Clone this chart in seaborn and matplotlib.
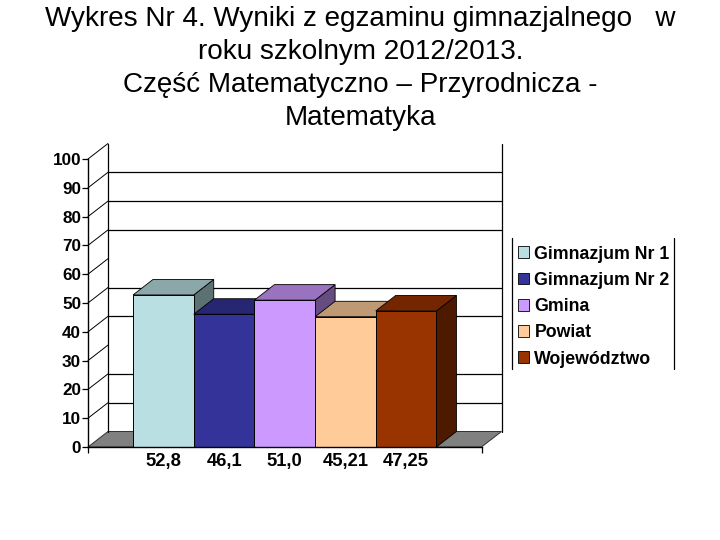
import matplotlib
matplotlib.use("Agg")
import matplotlib.pyplot as plt
from matplotlib.patches import Polygon
from matplotlib.lines import Line2D
from matplotlib.colors import to_rgb
import pandas as pd
import seaborn as sns

groups = ["Gimnazjum Nr 1", "Gimnazjum Nr 2", "Gmina", "Powiat", "Województwo"]
values = [52.8, 46.1, 51.0, 45.21, 47.25]
value_labels = ["52,8", "46,1", "51,0", "45,21", "47,25"]
colors = ["#B9DFE3", "#333399", "#CC99FF", "#FFCC99", "#993300"]
y_ticks = list(range(0, 101, 10))
wall_grid = [10, 20, 40, 50, 70, 80, 90]
title = ("Wykres Nr 4. Wyniki z egzaminu gimnazjalnego   w\n"
         "roku szkolnym 2012/2013.\n"
         "Część Matematyczno – Przyrodnicza -\n"
         "Matematyka")

sns.set_theme(style="white")
plt.rcParams["font.family"] = ["Liberation Sans", "DejaVu Sans"]

W, H = 720, 540
fig = plt.figure(figsize=(7.2, 5.4), dpi=100)
ax = fig.add_axes([88 / W, (H - 447) / H, 393.5 / W, 288 / H])

df = pd.DataFrame({"g": [""] * len(groups), "name": groups, "value": values})
sns.barplot(data=df, x="g", y="value", hue="name", hue_order=groups,
            palette=colors, width=0.771, gap=0, saturation=1,
            edgecolor="black", linewidth=0.7, ax=ax, legend=True)
ax.set_xlim(-0.5, 0.5)
ax.set_ylim(0, 100)
ax.set_xlabel("")
ax.set_ylabel("")
ax.patch.set_visible(False)
for s in ("top", "right"):
    ax.spines[s].set_visible(False)
for s in ("left", "bottom"):
    ax.spines[s].set_linewidth(1.0)
    ax.spines[s].set_color("black")
    ax.spines[s].set_zorder(30)

# depth of the pseudo-3D box, in data units
DX = 20 / 393.5
DY = 15.5 / 2.88
x0, x1 = ax.get_xlim()
LINE = dict(color="black", lw=0.9, clip_on=False)

# floor and walls
ax.add_patch(Polygon([(x0, 0), (x0 + DX, DY), (x1 + DX, DY), (x1, 0)],
                     closed=True, fc="#808080", ec="#303030", lw=0.7,
                     clip_on=False, zorder=0.5))
ax.plot([x0 + DX, x0 + DX], [DY, 100 + DY], zorder=0.6, **LINE)
ax.plot([x1 + DX, x1 + DX], [DY, 100 + DY], zorder=0.6, **LINE)
for v in wall_grid:
    ax.plot([x0 + DX, x1 + DX], [v + DY, v + DY], zorder=0.6, **LINE)
for v in y_ticks[1:]:
    ax.plot([x0, x0 + DX], [v, v + DY], color="black", lw=0.7,
            clip_on=False, zorder=0.6)

# pseudo-3D faces of each bar, drawn left to right
centers = []
for i, cont in enumerate(ax.containers):
    bar = cont.patches[0]
    left, right = bar.get_x(), bar.get_x() + bar.get_width()
    top = bar.get_height()
    centers.append((left + right) / 2)
    base = to_rgb(colors[i])
    z = 5 + i
    top_col = tuple(c * 0.75 for c in base)
    side_col = tuple(c * 0.5 for c in base)
    ax.add_patch(Polygon([(right, 0), (right + DX, DY), (right + DX, top + DY), (right, top)],
                         closed=True, fc=side_col, ec="black", lw=0.6,
                         clip_on=False, zorder=z))
    ax.add_patch(Polygon([(left, top), (left + DX, top + DY), (right + DX, top + DY), (right, top)],
                         closed=True, fc=top_col, ec="black", lw=0.6,
                         clip_on=False, zorder=z + 0.1))
    bar.set_zorder(z + 0.2)

# axis ticks and labels
bold = dict(fontweight="bold", color="black")
ax.set_yticks(y_ticks)
ax.set_yticklabels([str(v) for v in y_ticks], fontsize=12.3, **bold)
ax.tick_params(axis="y", length=4, width=0.9, pad=1, color="black", left=True)
ax.set_xticks(centers)
ax.set_xticklabels(value_labels, fontsize=13.2, **bold)
ax.tick_params(axis="x", length=0, pad=4)
ax.set_xticks([x0, x1], minor=True)
ax.tick_params(axis="x", which="minor", length=4, width=0.9, color="black", bottom=True)

# legend
handles, labels = ax.get_legend_handles_labels()
leg = ax.legend(handles, labels, loc="upper left",
                bbox_to_anchor=(514 / W, (H - 242) / H),
                bbox_transform=fig.transFigure, frameon=False,
                prop={"family": "Liberation Sans", "weight": "bold", "size": 12.8},
                handlelength=0.65, handleheight=0.65, handletextpad=0.3,
                labelspacing=0.52, borderpad=0.2, borderaxespad=0)
for h in leg.get_patches():
    h.set_edgecolor("black")
    h.set_linewidth(0.6)
for text in leg.get_texts():
    text.set_color("black")
for xp in (511.7, 674):
    fig.add_artist(Line2D([xp / W, xp / W], [(H - 238) / H, (H - 369) / H],
                          color="black", lw=0.9))

fig.text(360.5 / W, (H - 5.5) / H, title, ha="center", va="top",
         fontsize=20.1, color="black", linespacing=1.355)

fig.savefig("out.png", dpi=100, facecolor="white")
